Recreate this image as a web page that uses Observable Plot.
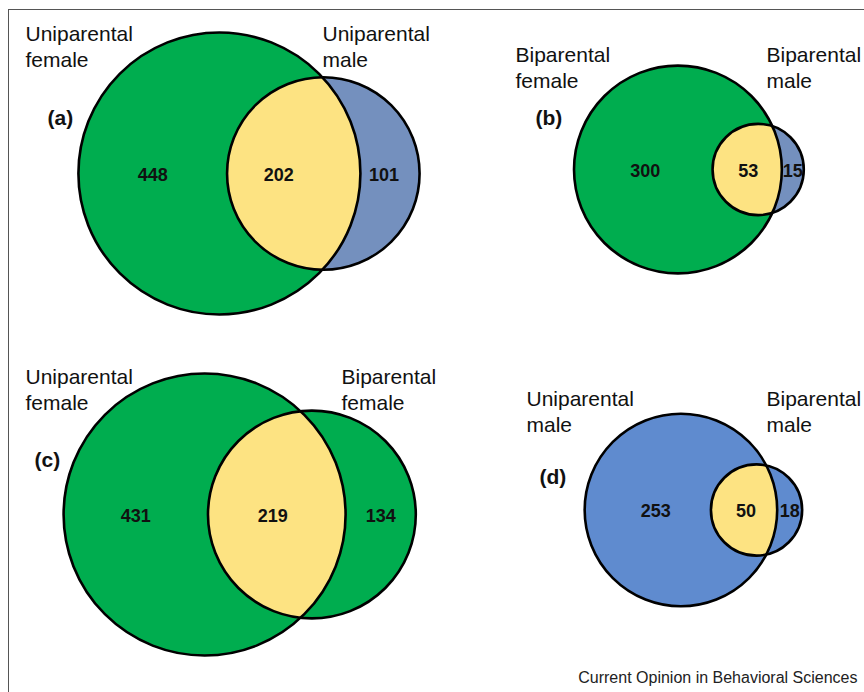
<!DOCTYPE html>
<html>
<head>
<meta charset="utf-8">
<script src="https://cdn.jsdelivr.net/npm/d3@7"></script>
<script src="https://cdn.jsdelivr.net/npm/@observablehq/plot@0.6"></script>
<style>
  html, body { margin: 0; padding: 0; background: #fff; }
  #wrap { position: relative; width: 864px; height: 692px; overflow: hidden; }
  #frame { position: absolute; left: 8px; top: 9px; right: -10px; bottom: -10px;
           border-top: 1.6px solid #555; border-left: 1.6px solid #555; pointer-events: none; }
  #chart svg { display: block; }
</style>
</head>
<body>
<div id="wrap"><div id="chart"></div><div id="frame"></div></div>
<script>
// ---- data ----
const panelIds = ["(a)", "(b)", "(c)", "(d)"];
const leftSets = ["Uniparental\nfemale", "Biparental\nfemale", "Uniparental\nfemale", "Uniparental\nmale"];
const rightSets = ["Uniparental\nmale", "Biparental\nmale", "Biparental\nfemale", "Biparental\nmale"];
const onlyLeft = [448, 300, 431, 253];
const shared = [202, 53, 219, 50];
const onlyRight = [101, 15, 134, 18];
const leftColors = ["#00AD4F", "#00AD4F", "#00AD4F", "#5F8BCF"];
const rightColors = ["#7490BE", "#7490BE", "#00AD4F", "#5F8BCF"];
const sharedColor = "#FDE382";
const caption = "Current Opinion in Behavioral Sciences";

// ---- layout (positions of each panel) ----
const layout = [
  {midX: 248.5, cy: 173, labelLX: 25, labelRX: 322, labelTop: 23, letterX: 47, letterY: 118, numDx: [0, -15, -6]},
  {midX: 688.4, cy: 169, labelLX: 515, labelRX: 766, labelTop: 44, letterX: 535, letterY: 118, numDx: [2, 1, 0]},
  {midX: 239.2, cy: 514, labelLX: 25, labelRX: 341, labelTop: 366, letterX: 34, letterY: 460, numDx: [0, -4, 0]},
  {midX: 692.9, cy: 509.5, labelLX: 526, labelRX: 766, labelTop: 388, letterX: 539, letterY: 477, numDx: [8, 2, 0]}
];

const font = "Liberation Sans, Arial, Helvetica, sans-serif";
const totalsL = onlyLeft.map((v, i) => v + shared[i]);
const totalsR = onlyRight.map((v, i) => v + shared[i]);
const maxTotal = d3.max([...totalsL, ...totalsR]);
const rOpts = {type: "sqrt", domain: [0, maxTotal], range: [0, 141]};
const rScale = Plot.scale({r: rOpts});

function lensArea(r1, r2, d) {
  if (d >= r1 + r2) return 0;
  if (d <= Math.abs(r1 - r2)) return Math.PI * Math.min(r1, r2) ** 2;
  const a1 = Math.acos((d * d + r1 * r1 - r2 * r2) / (2 * d * r1));
  const a2 = Math.acos((d * d + r2 * r2 - r1 * r1) / (2 * d * r2));
  const k = Math.sqrt((-d + r1 + r2) * (d + r1 - r2) * (d - r1 + r2) * (d + r1 + r2));
  return r1 * r1 * a1 + r2 * r2 * a2 - 0.5 * k;
}
function solveD(r1, r2, target) {
  let lo = Math.abs(r1 - r2), hi = r1 + r2;
  for (let i = 0; i < 80; i++) {
    const mid = (lo + hi) / 2;
    if (lensArea(r1, r2, mid) > target) lo = mid; else hi = mid;
  }
  return (lo + hi) / 2;
}

const circles = [], lensPts = [], nums = [], panels = [];
panelIds.forEach((id, i) => {
  const L = layout[i];
  const r1 = rScale.apply(totalsL[i]), r2 = rScale.apply(totalsR[i]);
  const unitArea = Math.PI * r1 * r1 / totalsL[i];
  const d = solveD(r1, r2, shared[i] * unitArea);
  const width = r1 + d + r2;
  const cx1 = L.midX - width / 2 + r1, cx2 = cx1 + d, cy = L.cy;
  circles.push({panel: id, cx: cx1, cy, n: totalsL[i], color: leftColors[i]});
  circles.push({panel: id, cx: cx2, cy, n: totalsR[i], color: rightColors[i]});
  const a = (d * d + r1 * r1 - r2 * r2) / (2 * d);
  const h = Math.sqrt(Math.max(0, r1 * r1 - a * a));
  const alpha = Math.atan2(h, a), beta = Math.atan2(h, a - d);
  const N = 90;
  for (let j = 0; j <= N; j++) {
    const t = -alpha + (2 * alpha) * j / N;
    lensPts.push({panel: id, x: cx1 + r1 * Math.cos(t), y: cy + r1 * Math.sin(t)});
  }
  for (let j = 0; j <= N; j++) {
    const t = beta + (2 * Math.PI - 2 * beta) * j / N;
    lensPts.push({panel: id, x: cx2 + r2 * Math.cos(t), y: cy + r2 * Math.sin(t)});
  }
  const bigL = cx1 - r1, bigR = cx1 + r1, smL = cx2 - r2, smR = cx2 + r2;
  nums.push({x: (bigL + smL) / 2 + L.numDx[0], y: cy + 1.5, t: String(onlyLeft[i])});
  nums.push({x: (smL + bigR) / 2 + L.numDx[1], y: cy + 1.5, t: String(shared[i])});
  nums.push({x: (bigR + smR) / 2 + L.numDx[2], y: cy + 1.5, t: String(onlyRight[i])});
  panels.push({id, left: leftSets[i], right: rightSets[i], ...L});
});

const chart = Plot.plot({
  width: 864, height: 692,
  margin: 0,
  x: {domain: [0, 864], range: [0, 864], axis: null},
  y: {domain: [0, 692], range: [0, 692], axis: null},
  r: rOpts,
  style: {fontFamily: font, background: "transparent"},
  marks: [
    Plot.dot(circles, {x: "cx", y: "cy", r: "n", fill: "color", stroke: "none"}),
    Plot.line(lensPts, {x: "x", y: "y", z: "panel", fill: sharedColor, stroke: "none", curve: "linear-closed"}),
    Plot.dot(circles, {x: "cx", y: "cy", r: "n", fill: "none", stroke: "#000", strokeWidth: 2.6}),
    Plot.text(panels, {x: "labelLX", y: "labelTop", text: "left", textAnchor: "start", lineAnchor: "top",
      fontSize: 21, lineHeight: 1.2, fill: "#111", fontFamily: font}),
    Plot.text(panels, {x: "labelRX", y: "labelTop", text: "right", textAnchor: "start", lineAnchor: "top",
      fontSize: 21, lineHeight: 1.2, fill: "#111", fontFamily: font}),
    Plot.text(panels, {x: "letterX", y: "letterY", text: "id", textAnchor: "start", lineAnchor: "middle",
      fontSize: 21, fontWeight: "bold", fill: "#111", fontFamily: font}),
    Plot.text(nums, {x: "x", y: "y", text: "t", textAnchor: "middle", lineAnchor: "middle",
      fontSize: 18, fontWeight: "bold", fill: "#111", fontFamily: font}),
    Plot.text([caption], {x: () => 857, y: () => 682, text: d => d, textAnchor: "end", lineAnchor: "bottom",
      fontSize: 16, fill: "#222", fontFamily: font})
  ]
});
document.getElementById("chart").appendChild(chart);
</script>
</body>
</html>
